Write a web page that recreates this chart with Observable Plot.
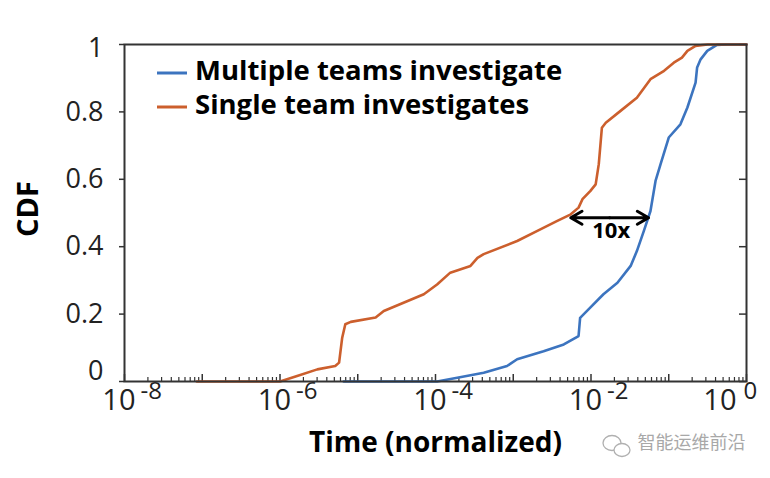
<!DOCTYPE html>
<html><head><meta charset="utf-8">
<script src="https://cdn.jsdelivr.net/npm/d3@7"></script>
<script src="https://cdn.jsdelivr.net/npm/@observablehq/plot@0.6"></script>
<style>body{margin:0;background:#fff}#chart svg{display:block}</style>
</head><body><div id="chart"></div>
<script>
// ---------- data ----------
const seriesNames  = ["Multiple teams investigate", "Single team investigates"];
const seriesColors = ["#3c74bf", "#cc5f2d"];

// log10(normalized time) and CDF value
const multiLogX = [-5.18,-3.98,-3.72,-3.38,-3.08,-2.95,-2.61,-2.35,-2.16,-2.14,-2.01,-1.84,-1.66,-1.49,-1.41,-1.32,-1.235,-1.17,-1.105,-1.0,-0.85,-0.76,-0.655,-0.635,-0.59,-0.505,-0.38,-0.25,0];
const multiCdf  = [0,0,0.011,0.026,0.046,0.066,0.09,0.11,0.135,0.189,0.219,0.259,0.293,0.343,0.387,0.447,0.506,0.595,0.645,0.724,0.763,0.813,0.887,0.932,0.956,0.981,0.999,1,1];

const singleLogX = [-7.07,-6.0,-5.78,-5.52,-5.29,-5.24,-5.2,-5.16,-5.09,-4.77,-4.665,-4.15,-3.98,-3.81,-3.55,-3.46,-3.38,-2.95,-2.69,-2.44,-2.26,-2.16,-2.11,-2.01,-1.94,-1.90,-1.86,-1.81,-1.62,-1.41,-1.235,-1.06,-0.935,-0.83,-0.76,-0.655,-0.5,0];
const singleCdf  = [0,0,0.016,0.036,0.046,0.056,0.13,0.17,0.177,0.19,0.209,0.259,0.288,0.323,0.343,0.367,0.378,0.417,0.447,0.476,0.496,0.516,0.541,0.565,0.585,0.645,0.753,0.768,0.803,0.842,0.897,0.922,0.946,0.961,0.981,0.996,1,1];

const xMajorExp   = [-8,-6,-4,-2,0];
const xDecadeExp  = [-8,-7,-6,-5,-4,-3,-2,-1,0];
const xMinorMult  = [2,3,4,5,6,7,8,9];
const yTicks      = [0,0.2,0.4,0.6,0.8,1];
const yTickLabels = ["0","0.2","0.4","0.6","0.8","1"];
const xTitle = "Time (normalized)";
const yTitle = "CDF";

// annotation: 10x gap
const arrowLogX = [-2.26, -1.26];
const arrowCdf  = 0.486;
const annotText = "10x";
const annotLogX = -1.74;
const annotCdf  = 0.447;
const watermark = "智能运维前沿";

// ---------- build ----------
const FONT = "'Open Sans', 'Noto Sans', sans-serif";
const toRows = (lx, cdf, s) => lx.map((v, i) => ({t: 10 ** v, cdf: cdf[i], series: s}));
const rows = [...toRows(multiLogX, multiCdf, seriesNames[0]), ...toRows(singleLogX, singleCdf, seriesNames[1])];
const decades = xDecadeExp.map(e => 10 ** e);
const minor = xDecadeExp.slice(0, -1).flatMap(e => xMinorMult.map(m => m * 10 ** e));
const majors = xMajorExp.map(e => ({v: 10 ** e, exp: String(e)}));
const majorsInner = majors.filter(d => d.v < 1);
const majorsLast = majors.filter(d => d.v >= 1);
const yRows = yTicks.map((v, i) => ({v, label: yTickLabels[i]}));
const arrowMid = 10 ** ((arrowLogX[0] + arrowLogX[1]) / 2);

function legendMark(index, scales, values, dims) {
  const ml = dims.marginLeft ?? 124, mt = dims.marginTop ?? 44;
  const g = d3.create("svg:g").attr("font-family", FONT).attr("font-size", 27.5)
    .attr("font-weight", 700).attr("text-anchor", "start");
  seriesNames.forEach((name, i) => {
    const y = mt + 26.5 + i * 34;
    g.append("line").attr("x1", ml + 33).attr("x2", ml + 63)
      .attr("y1", y + 2.5).attr("y2", y + 2.5).attr("stroke", seriesColors[i]).attr("stroke-width", 3);
    g.append("text").attr("x", ml + 71).attr("y", y).attr("dy", "0.35em")
      .attr("fill", "#000").text(name);
  });
  return g.node();
}
function wechatIcon(index, scales, values, dims) {
  const g = d3.create("svg:g").attr("fill", "none").attr("stroke", "#b0b0b0").attr("stroke-width", 1.3);
  const cx = (dims.width ?? 770) - 158, cy = (dims.height ?? 478) - 35;
  g.append("ellipse").attr("cx", cx).attr("cy", cy).attr("rx", 9).attr("ry", 7.5);
  g.append("ellipse").attr("cx", cx + 10).attr("cy", cy + 7).attr("rx", 8).attr("ry", 6.5).attr("fill", "#fff");
  return g.node();
}

const chart = Plot.plot({
  width: 770, height: 478,
  marginLeft: 124, marginRight: 24, marginTop: 44, marginBottom: 97,
  style: {fontFamily: FONT, background: "#fff", color: "#222"},
  x: {type: "log", domain: [1e-8, 1], axis: null},
  y: {domain: [0, 1], axis: null},
  color: {domain: seriesNames, range: seriesColors},
  marks: [
    // inward minor/major x ticks
    Plot.axisX(minor, {anchor: "top", frameAnchor: "bottom", tickSize: 5, tickFormat: () => "", label: null, stroke: "#333", strokeWidth: 1.2}),
    Plot.axisX(decades, {anchor: "top", frameAnchor: "bottom", tickSize: 8, tickFormat: () => "", label: null, stroke: "#333", strokeWidth: 1.5}),
    // y ticks: outward left, inward right
    Plot.axisY(yTicks, {anchor: "left", tickSize: 5, tickFormat: () => "", label: null, stroke: "#333", strokeWidth: 1.5}),
    Plot.axisY(yTicks, {anchor: "left", frameAnchor: "right", tickSize: 7, tickFormat: () => "", label: null, stroke: "#333", strokeWidth: 1.5}),
    // x tick labels 10^e
    Plot.text(majorsInner, {x: "v", frameAnchor: "bottom", text: () => "10", textAnchor: "end", dx: 11, dy: 28, fontSize: 29, fill: "#222"}),
    Plot.text(majorsInner, {x: "v", frameAnchor: "bottom", text: "exp", textAnchor: "start", dx: 16, dy: 17, fontSize: 24, fill: "#222"}),
    Plot.text(majorsLast, {x: "v", frameAnchor: "bottom", text: () => "10", textAnchor: "end", dx: -10, dy: 28, fontSize: 29, fill: "#222"}),
    Plot.text(majorsLast, {x: "v", frameAnchor: "bottom", text: "exp", textAnchor: "start", dx: -3, dy: 17, fontSize: 24, fill: "#222"}),
    // y tick labels
    Plot.text(yRows.filter(d => d.v > 0 && d.v < 1), {y: "v", text: "label", frameAnchor: "left", textAnchor: "end", dx: -21, fontSize: 27, fill: "#222"}),
    Plot.text(yRows.filter(d => d.v === 0), {y: "v", text: "label", frameAnchor: "left", textAnchor: "end", dx: -21, dy: -10, fontSize: 27, fill: "#222"}),
    Plot.text(yRows.filter(d => d.v === 1), {y: "v", text: "label", frameAnchor: "left", textAnchor: "end", dx: -21, dy: 4, fontSize: 27, fill: "#222"}),
    // titles
    Plot.text([xTitle], {frameAnchor: "bottom", dy: 70, fontSize: 28, fontWeight: "bold", fill: "#000"}),
    Plot.text([yTitle], {frameAnchor: "left", dx: -96, dy: 24, rotate: -90, fontSize: 29, fontWeight: "bold", fill: "#000"}),
    // lines
    Plot.line(rows, {x: "t", y: "cdf", z: "series", stroke: "series", strokeWidth: 2.6}),
    // annotation
    Plot.arrow(arrowLogX, {x1: () => arrowMid, x2: d => 10 ** d, y1: () => arrowCdf, y2: () => arrowCdf, stroke: "#000", strokeWidth: 3, headLength: 11}),
    Plot.text([annotText], {x: () => 10 ** annotLogX, y: () => annotCdf, fontSize: 22, fontWeight: "bold", fill: "#000"}),
    // frame
    Plot.frame({stroke: "#333", strokeWidth: 2}),
    legendMark,
    // watermark
    wechatIcon,
    Plot.text([watermark], {frameAnchor: "bottom-right", textAnchor: "end", dx: -1, dy: 67, fontSize: 18, fill: "#a8a8a8", fontFamily: "'Noto Sans CJK SC'"})
  ]
});
document.getElementById("chart").append(chart);
</script>
</body></html>
